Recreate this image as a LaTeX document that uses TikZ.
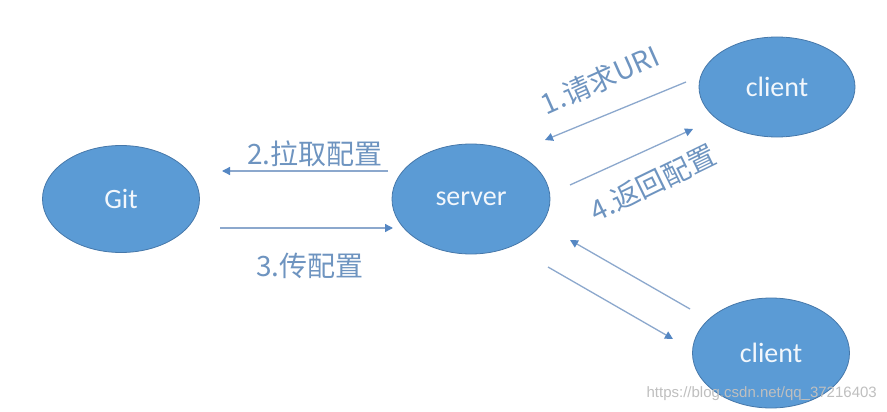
\documentclass[tikz,border=0pt]{standalone}
\usepackage{fontspec}
\setmainfont{Carlito}
\newfontfamily\cjk{Noto Sans CJK SC}
\newfontfamily\wm{Liberation Sans}
\usetikzlibrary{shapes.geometric,arrows.meta}
\definecolor{nodefill}{RGB}{91,155,213}
\definecolor{nodeedge}{RGB}{70,120,170}
\definecolor{linec}{RGB}{140,168,205}
\definecolor{tipc}{RGB}{85,135,195}
\definecolor{labc}{RGB}{110,148,192}
\tikzset{
  blob/.style={ellipse, fill=nodefill, draw=nodeedge, line width=0.8pt, text=white!92!nodefill, font=\fontsize{28}{32}\selectfont, inner sep=0pt},
  conn/.style={draw=linec, line width=1.3pt, -{Triangle[width=8pt,length=8pt,fill=tipc,color=tipc]}},
  lab/.style={text=labc, font=\cjk\fontsize{28}{32}\selectfont, inner sep=0pt}
}
\begin{document}
\begin{tikzpicture}[x=1pt,y=-1pt]
\useasboundingbox (0,0) rectangle (887,412);
\fill[white] (0,0) rectangle (887,412);
\node[blob, minimum width=157pt, minimum height=107pt] (git) at (121,199) {Git};
\node[blob, minimum width=158pt, minimum height=110pt] (server) at (471,199) {server};
\node[blob, minimum width=156pt, minimum height=100pt] (c1) at (777,87) {client};
\node[blob, minimum width=157pt, minimum height=110pt] (c2) at (771,353) {client};

\coordinate (a2s) at (388,171); \coordinate (a2e) at (222,171);
\coordinate (a3s) at (220,228); \coordinate (a3e) at (393,228);
\coordinate (a1s) at (686,82);  \coordinate (a1e) at (545,140);
\coordinate (a4s) at (570,185); \coordinate (a4e) at (693,129);
\coordinate (a5s) at (690,309); \coordinate (a5e) at (570,240);
\coordinate (a6s) at (548,267); \coordinate (a6e) at (673,339);

\draw[conn] (a2s) -- (a2e);
\draw[conn] (a3s) -- (a3e);
\draw[conn] (a1s) -- (a1e);
\draw[conn] (a4s) -- (a4e);
\draw[conn] (a5s) -- (a5e);
\draw[conn] (a6s) -- (a6e);

\node[lab] (l2) at (315,154) {2.拉取配置};
\node[lab] (l3) at (310,266) {3.传配置};
\node[lab, rotate=24] (l1) at (600,80) {1.请求URI};
\node[lab, rotate=26] (l4) at (653,183) {4.返回配置};

\node[text=black!25, font=\wm\fontsize{15}{18}\selectfont, inner sep=0pt, anchor=east] (wm) at (877,394) {https://blog.csdn.net/qq\_37216403};
\end{tikzpicture}
\end{document}
